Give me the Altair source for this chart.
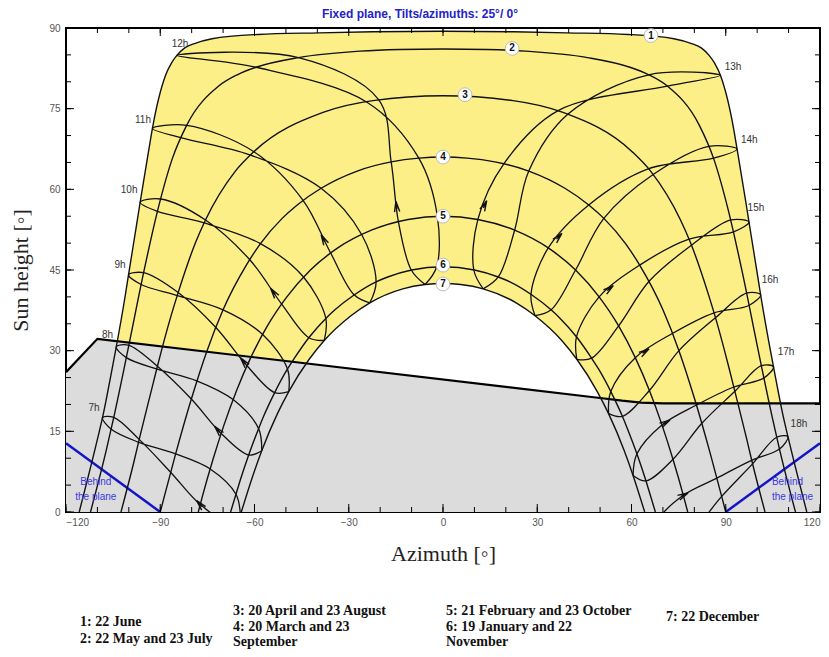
import altair as alt
import pandas as pd

# ---------------- data ----------------
HOURS = [7, 8, 9, 10, 11, 12, 13, 14, 15, 16, 17, 18]

# date curves (azimuth, sun height)
D1_AZ = [-115.8, -109.8, -108.4, -105.2, -104.0, -101.1, -100.1, -97.4, -96.4, -93.6, -92.5, -88.3, -86.4, -84.7,
         -82.2, -79.1, -73.5, -58.9, -39.5, -22.4, 0, 22.4, 39.5, 58.9, 73.5, 79.1, 82.2, 84.7, 86.4, 88.3, 92.5,
         93.6, 96.4, 97.4, 100.1, 101.1, 104.0, 105.2, 108.4, 109.8, 115.8]
D1_H = [0, 14.0, 17.5, 27.0, 30.7, 40.4, 44.1, 53.9, 57.6, 67.5, 71.3, 81.2, 83.5, 84.9,
        86.3, 87.1, 88.0, 88.8, 89.1, 89.3, 89.4, 89.3, 89.1, 88.8, 88.0, 87.1, 86.3, 84.9, 83.5, 81.2, 71.3,
        67.5, 57.6, 53.9, 44.1, 40.4, 30.7, 27.0, 17.5, 14.0, 0]
D2_AZ = [-112.2, -107.1, -104.8, -100.0, -95.3, -90.9, -86.1, -81.6, -71.4, -65.5, -59.5, -46.0, -26.4, -13.9, 0,
         13.9, 26.4, 46.0, 59.5, 65.5, 71.4, 81.6, 86.1, 90.9, 95.3, 100.0, 104.8, 107.1, 112.2]
D2_H = [0, 11.7, 17.6, 31.0, 44.5, 55.9, 65.8, 71.9, 79.2, 81.3, 82.7, 84.5, 85.7, 86.0, 86.1,
        86.0, 85.7, 84.5, 82.7, 81.3, 79.2, 71.9, 65.8, 55.9, 44.5, 31.0, 17.6, 11.7, 0]
D3_AZ = [-102.5, -98.4, -96.7, -92.7, -90.9, -86.5, -84.3, -78.7, -75.6, -66.2, -60.2, -38.2, -22.3, 0,
         22.3, 38.2, 60.2, 66.2, 75.6, 78.7, 84.3, 86.5, 90.9, 92.7, 96.7, 98.4, 102.5]
D3_H = [0, 9.3, 13.5, 22.9, 27.1, 36.6, 40.8, 50.2, 54.3, 63.3, 67.0, 74.3, 76.5, 77.4,
        76.5, 74.3, 67.0, 63.3, 54.3, 50.2, 40.8, 36.6, 27.1, 22.9, 13.5, 9.3, 0]
D4_AZ = [-90, -88.7, -85.1, -80.1, -75.1, -70.0, -62.6, -58.1, -51.2, -46.4, -38.8, -27.3, -16.5, -7.7, 0,
         7.7, 16.5, 27.3, 38.8, 46.4, 51.2, 58.1, 62.6, 70.0, 75.1, 80.1, 85.1, 88.7, 90]
D4_H = [0, 2.9, 10.8, 21.0, 30.0, 37.6, 45.9, 49.9, 54.6, 57.1, 60.2, 63.4, 65.1, 65.8, 66.0,
        65.8, 65.1, 63.4, 60.2, 57.1, 54.6, 49.9, 45.9, 37.6, 30.0, 21.0, 10.8, 2.9, 0]
D5_AZ = [-77.9, -76.5, -73.2, -69.7, -65.7, -61.2, -55.9, -49.7, -42.2, -33.5, -22.8, -11.1, 0,
         11.1, 22.8, 33.5, 42.2, 49.7, 55.9, 61.2, 65.7, 69.7, 73.2, 76.5, 77.9]
D5_H = [0, 3.1, 9.8, 16.2, 22.6, 28.7, 34.6, 40.0, 45.0, 49.1, 52.4, 54.4, 55.0,
        54.4, 52.4, 49.1, 45.0, 40.0, 34.6, 28.7, 22.6, 16.2, 9.8, 3.1, 0]
D6_AZ = [-67.6, -65.9, -64.6, -61.8, -58.7, -57.1, -53.5, -49.5, -47.3, -42.6, -37.3, -34.4, -28.2, -21.3, -17.6,
         -10.0, 0, 10.0, 17.6, 21.3, 28.2, 34.4, 37.3, 42.6, 47.3, 49.5, 53.5, 57.1, 58.7, 61.8, 64.6, 65.9, 67.6]
D6_H = [0, 3.3, 5.8, 10.7, 15.5, 17.8, 22.3, 26.6, 28.6, 32.5, 36.0, 37.6, 40.4, 42.8, 43.7,
        45.0, 45.6, 45.0, 43.7, 42.8, 40.4, 37.6, 36.0, 32.5, 28.6, 26.6, 22.3, 17.8, 15.5, 10.7, 5.8, 3.3, 0]
D7_AZ = [-64.2, -60.5, -57.7, -52.7, -49.1, -42.6, -37.8, -29.3, -23.3, -12.8, -5.7, 0,
         5.7, 12.8, 23.3, 29.3, 37.8, 42.6, 49.1, 52.7, 57.7, 60.5, 64.2]
D7_H = [0, 6.8, 11.4, 18.3, 22.4, 28.4, 31.9, 36.5, 38.9, 41.5, 42.3, 42.5,
        42.3, 41.5, 38.9, 36.5, 31.9, 28.4, 22.4, 18.3, 11.4, 6.8, 0]

# hour-line (analemma) points for 7h..18h on each date
JUN_AZ = [-108.4, -104.0, -100.1, -96.4, -92.5, -84.7, 88.3, 93.6, 97.4, 101.1, 105.2, 109.8]
JUN_H = [17.5, 30.7, 44.1, 57.6, 71.3, 84.9, 81.2, 67.5, 53.9, 40.4, 27.0, 14.0]
MAY_AZ = [-104.8, -100.0, -95.3, -89.9, -81.6, -46.0, 71.4, 86.1, 92.5, 97.4, 102.1, 107.1]
MAY_H = [17.6, 31.0, 44.5, 58.2, 71.9, 84.5, 79.2, 65.8, 52.1, 38.4, 24.9, 11.7]
JUL_AZ = [-105.6, -100.8, -96.1, -90.9, -83.5, -59.5, 65.5, 84.6, 91.6, 96.6, 101.3, 106.2]
JUL_H = [15.4, 28.7, 42.3, 55.9, 69.6, 82.7, 81.3, 68.0, 54.3, 40.7, 27.2, 13.9]
APR_AZ = [-96.7, -90.9, -84.3, -75.6, -60.2, -20.5, 36.5, 65.3, 78.1, 86.1, 92.4, 98.2]
APR_H = [13.5, 27.1, 40.8, 54.3, 67.0, 76.7, 74.6, 63.8, 50.7, 37.0, 23.2, 9.6]
AUG_AZ = [-97.0, -91.2, -84.8, -76.3, -61.5, -24.2, 39.8, 67.0, 79.3, 86.9, 93.0, 98.6]
AUG_H = [13.0, 26.6, 40.3, 53.8, 66.4, 76.2, 74.0, 62.8, 49.7, 36.2, 22.5, 9.0]
MAR_AZ = [-86.7, -80.1, -72.3, -61.5, -44.6, -16.5, 19.3, 46.4, 62.6, 73.0, 80.7, 87.2]
MAR_H = [7.4, 21.0, 34.3, 46.9, 58.0, 65.1, 64.7, 57.1, 45.9, 33.2, 19.9, 6.3]
SEP_AZ = [-85.1, -78.4, -70.0, -58.1, -38.8, -7.7, 27.3, 51.2, 65.6, 75.1, 82.4, 88.7]
SEP_H = [10.8, 24.4, 37.6, 49.9, 60.2, 65.8, 63.4, 54.6, 42.9, 30.0, 16.5, 2.9]
FEB_AZ = [-77.3, -70.6, -62.4, -51.4, -35.8, -14.2, 11.1, 33.5, 49.7, 61.2, 69.7, 76.5]
FEB_H = [1.4, 14.6, 27.2, 38.7, 48.2, 54.0, 54.4, 49.1, 40.0, 28.7, 16.2, 3.1]
OCT_AZ = [-74.1, -66.8, -57.4, -44.4, -25.9, -1.8, 22.8, 42.2, 55.9, 65.7, 73.2, 79.5]
OCT_H = [8.0, 20.9, 33.0, 43.7, 51.6, 55.0, 52.4, 45.0, 34.6, 22.6, 9.8, -3.5]
JAN_AZ = [-68.4, -61.9, -53.6, -42.7, -28.3, -10.1, 9.8, 28.0, 42.5, 53.4, 61.7, 68.3]
JAN_H = [-1.8, 10.6, 22.2, 32.4, 40.4, 45.0, 45.0, 40.5, 32.6, 22.4, 10.8, -1.6]
NOV_AZ = [-65.9, -58.7, -49.5, -37.3, -21.3, -2.0, 17.6, 34.4, 47.3, 57.1, 64.6, 70.7]
NOV_H = [3.3, 15.5, 26.6, 36.0, 42.8, 45.6, 43.7, 37.6, 28.6, 17.8, 5.8, -6.9]
DEC_AZ = [-64.5, -57.7, -49.1, -37.8, -23.3, -5.7, 12.8, 29.3, 42.6, 52.7, 60.5, 66.7]
DEC_H = [-0.6, 11.4, 22.4, 31.9, 38.9, 42.3, 41.5, 36.5, 28.4, 18.3, 6.8, -5.4]

# direction arrows on the hour lines (position and heading, degrees clockwise from up)
ARROW_AZ = [-77.3, -71.6, -63.4, -53.9, -38.0, -14.8, 13.2, 36.7, 52.9, 64.2, 70.8, 76.5]
ARROW_H = [1.4, 15.2, 27.9, 40.8, 50.7, 56.8, 57.0, 51.1, 41.5, 29.8, 16.6, 3.1]
ARROW_ANGLE = [318, 319, 321, 324, 332, 353, 25, 43, 52, 57, 60, 63]

# far-shading / horizon line
HORIZON_AZ = [-120, -110, 50, 57, 63, 70, 120]
HORIZON_H = [26.0, 32.2, 21.2, 20.7, 20.35, 20.2, 20.2]

# "behind the plane" limits
BLUE_AZ = [-120, -90, 90, 120]
BLUE_H = [12.8, 0, 0, 12.8]
BLUE_SIDE = ["L", "L", "R", "R"]

DATE_LABELS = ["1", "2", "3", "4", "5", "6", "7"]
DATE_LABEL_AZ = [66.2, 22.0, 7.0, 0, 0, 0, 0]
DATE_LABEL_H = [88.6, 86.2, 77.6, 66.0, 55.0, 45.9, 42.4]

HOUR_LABELS = ["7h", "8h", "9h", "10h", "11h", "12h", "13h", "14h", "15h", "16h", "17h", "18h"]
HOUR_LABEL_AZ = [-111.1, -106.8, -102.8, -99.9, -95.5, -83.7, 92.3, 97.5, 99.6, 104.1, 109.2, 113.3]
HOUR_LABEL_H = [19.3, 32.9, 45.9, 59.9, 72.9, 87.0, 82.7, 69.2, 56.5, 43.1, 29.8, 16.4]

X_TICKS = [-120, -90, -60, -30, 0, 30, 60, 90, 120]
Y_TICKS = [0, 15, 30, 45, 60, 75, 90]
X_MINOR = list(range(-120, 121, 10))
Y_MINOR = list(range(0, 91, 5))

LEGEND_TEXT = ["1: 22 June", "2: 22 May and 23 July",
               "3: 20 April and 23 August", "4: 20 March and 23", "September",
               "5: 21 February and 23 October", "6: 19 January and 22", "November",
               "7: 22 December"]
LEGEND_X = [14, 14, 167, 167, 167, 380, 380, 380, 600]
LEGEND_Y = [594, 611, 583, 599, 614, 583, 599, 614, 589]

TITLE = "Fixed plane, Tilts/azimuths: 25°/ 0°"

# ---------------- build tables ----------------
W, H = 754, 484
YELLOW = "#FDEF88"
GRAY = "#DCDCDC"
BLUE = "#1414C8"

date_sets = [(D1_AZ, D1_H), (D2_AZ, D2_H), (D3_AZ, D3_H), (D4_AZ, D4_H),
             (D5_AZ, D5_H), (D6_AZ, D6_H), (D7_AZ, D7_H)]
rows = []
for k, (azs, hs) in enumerate(date_sets):
    for a, h in zip(azs, hs):
        rows.append({"date": k + 1, "az": a, "h": h})
dates_df = pd.DataFrame(rows)
june_df = dates_df[dates_df.date == 1]
dec_df = dates_df[dates_df.date == 7]

loop_order = [(DEC_AZ, DEC_H), (JAN_AZ, JAN_H), (FEB_AZ, FEB_H), (MAR_AZ, MAR_H), (APR_AZ, APR_H),
              (MAY_AZ, MAY_H), (JUN_AZ, JUN_H), (JUL_AZ, JUL_H), (AUG_AZ, AUG_H), (SEP_AZ, SEP_H),
              (OCT_AZ, OCT_H), (NOV_AZ, NOV_H), (DEC_AZ, DEC_H)]
rows = []
for j, hr in enumerate(HOURS):
    for k, (azs, hs) in enumerate(loop_order):
        rows.append({"hour": hr, "ord": k, "az": azs[j], "h": hs[j]})
loops_df = pd.DataFrame(rows)

arrows_df = pd.DataFrame({"az": ARROW_AZ, "h": ARROW_H, "ang": ARROW_ANGLE})
horizon_df = pd.DataFrame({"az": HORIZON_AZ, "h": HORIZON_H})
blue_df = pd.DataFrame({"az": BLUE_AZ, "h": BLUE_H, "side": BLUE_SIDE})
date_lab_df = pd.DataFrame({"az": DATE_LABEL_AZ, "h": DATE_LABEL_H, "t": DATE_LABELS})
hour_lab_df = pd.DataFrame({"az": HOUR_LABEL_AZ, "h": HOUR_LABEL_H, "t": HOUR_LABELS})
behind_df = pd.DataFrame({"az": [-110.5, -110.5, 104.7, 104.7], "h": [5.6, 2.8, 5.6, 2.8],
                          "t": ["Behind", "the plane", "Behind", "the plane"],
                          "al": ["c", "c", "l", "l"]})
legend_df = pd.DataFrame({"t": LEGEND_TEXT, "px": LEGEND_X, "py": LEGEND_Y})

xs = alt.Scale(domain=[-120, 120], nice=False, zero=False)
ys = alt.Scale(domain=[0, 90], nice=False, zero=False)
xaxis = alt.Axis(values=X_TICKS, labelPadding=5, titlePadding=16)
yaxis = alt.Axis(values=Y_TICKS, labelPadding=6, titlePadding=16)


def EX():
    return alt.X("az:Q", scale=xs, axis=xaxis, title="Azimuth [◦]")


def EY():
    return alt.Y("h:Q", scale=ys, axis=yaxis, title="Sun height [◦]")


yellow = alt.Chart(june_df).mark_area(color=YELLOW, interpolate="monotone", clip=True).encode(
    x=EX(), y=EY(), y2=alt.datum(0))
white = alt.Chart(dec_df).mark_area(color="white", interpolate="monotone", clip=True).encode(
    x=EX(), y=EY(), y2=alt.datum(0))
gray = alt.Chart(horizon_df).mark_area(color=GRAY, clip=True).encode(
    x=EX(), y=EY(), y2=alt.datum(0))

date_lines = alt.Chart(dates_df).mark_line(color="#111", strokeWidth=1.4, interpolate="monotone",
                                           clip=True).encode(
    x=EX(), y=EY(), detail="date:N")
hour_lines = alt.Chart(loops_df).mark_line(color="#111", strokeWidth=1.3, interpolate="catmull-rom",
                                           clip=True).encode(
    x=EX(), y=EY(), detail="hour:N", order=alt.Order("ord:Q"))
arrows = alt.Chart(arrows_df).mark_point(
    shape="M -0.5 1 L 0 -1 L 0.5 1 M 0 -1 L 0 0.5", filled=False, color="#111", strokeWidth=1.4,
    size=110, opacity=1, clip=True).encode(x=EX(), y=EY(), angle=alt.Angle("ang:Q", scale=None))
horizon_line = alt.Chart(horizon_df).mark_line(color="black", strokeWidth=2.2, clip=True).encode(
    x=EX(), y=EY())
blue_lines = alt.Chart(blue_df).mark_line(color=BLUE, strokeWidth=2.5, clip=True).encode(
    x=EX(), y=EY(), detail="side:N")

circles = alt.Chart(date_lab_df).mark_point(shape="circle", filled=True, fill="white", stroke="#BBBBBB",
                                            strokeWidth=1, size=190, opacity=1).encode(x=EX(), y=EY())
circle_txt = alt.Chart(date_lab_df).mark_text(font="Liberation Sans", fontSize=10, fontWeight="bold",
                                              color="#111").encode(x=EX(), y=EY(), text="t:N")
hour_txt = alt.Chart(hour_lab_df).mark_text(font="Liberation Sans", fontSize=10, color="#333").encode(
    x=EX(), y=EY(), text="t:N")
behind_c = alt.Chart(behind_df[behind_df.al == "c"]).mark_text(
    font="Liberation Sans", fontSize=10, color="#3A3AE0", align="center").encode(x=EX(), y=EY(), text="t:N")
behind_l = alt.Chart(behind_df[behind_df.al == "l"]).mark_text(
    font="Liberation Sans", fontSize=10, color="#3A3AE0", align="left").encode(x=EX(), y=EY(), text="t:N")

# inward ticks on all four sides
xmin_df = pd.DataFrame({"az": X_MINOR})
xmaj_df = pd.DataFrame({"az": X_TICKS})
ymin_df = pd.DataFrame({"h": Y_MINOR})
ymaj_df = pd.DataFrame({"h": Y_TICKS})
tick_layers = []
for df, ln in ((xmin_df, 5), (xmaj_df, 8)):
    tick_layers.append(alt.Chart(df).mark_rule(color="black", strokeWidth=1).encode(
        x=EX(), y=alt.value(H), y2=alt.value(H - ln)))
    tick_layers.append(alt.Chart(df).mark_rule(color="black", strokeWidth=1).encode(
        x=EX(), y=alt.value(0), y2=alt.value(ln)))
for df, ln in ((ymin_df, 5), (ymaj_df, 8)):
    tick_layers.append(alt.Chart(df).mark_rule(color="black", strokeWidth=1).encode(
        y=EY(), x=alt.value(0), x2=alt.value(ln)))
    tick_layers.append(alt.Chart(df).mark_rule(color="black", strokeWidth=1).encode(
        y=EY(), x=alt.value(W), x2=alt.value(W - ln)))

title_txt = alt.Chart(pd.DataFrame({"t": [TITLE]})).mark_text(
    font="Liberation Sans", fontSize=12, fontWeight="bold", color="#2323C8").encode(
    x=alt.value(354), y=alt.value(-14), text="t:N")
legend_txt = alt.Chart(legend_df).mark_text(
    font="Liberation Serif", fontSize=14, fontWeight="bold", color="#111", align="left",
    baseline="middle").encode(x=alt.X("px:Q", scale=None), y=alt.Y("py:Q", scale=None), text="t:N")

chart = alt.layer(
    yellow, white, gray, horizon_line, blue_lines, date_lines, hour_lines, arrows, *tick_layers,
    circles, circle_txt, hour_txt, behind_c, behind_l, title_txt, legend_txt
).properties(
    width=W, height=H,
    padding={"left": 58, "top": 20, "right": 1, "bottom": 137},
    autosize=alt.AutoSizeParams(type="none"),
).configure_view(
    stroke="black", strokeWidth=2
).configure_axis(
    domain=False, ticks=False, grid=False,
    labelFont="Liberation Sans", labelFontSize=10, labelColor="#555",
    titleFont="Liberation Serif", titleFontSize=22, titleFontWeight="normal", titleColor="#222"
)

chart.save("out.html", embed_options={"renderer": "svg", "actions": False})
